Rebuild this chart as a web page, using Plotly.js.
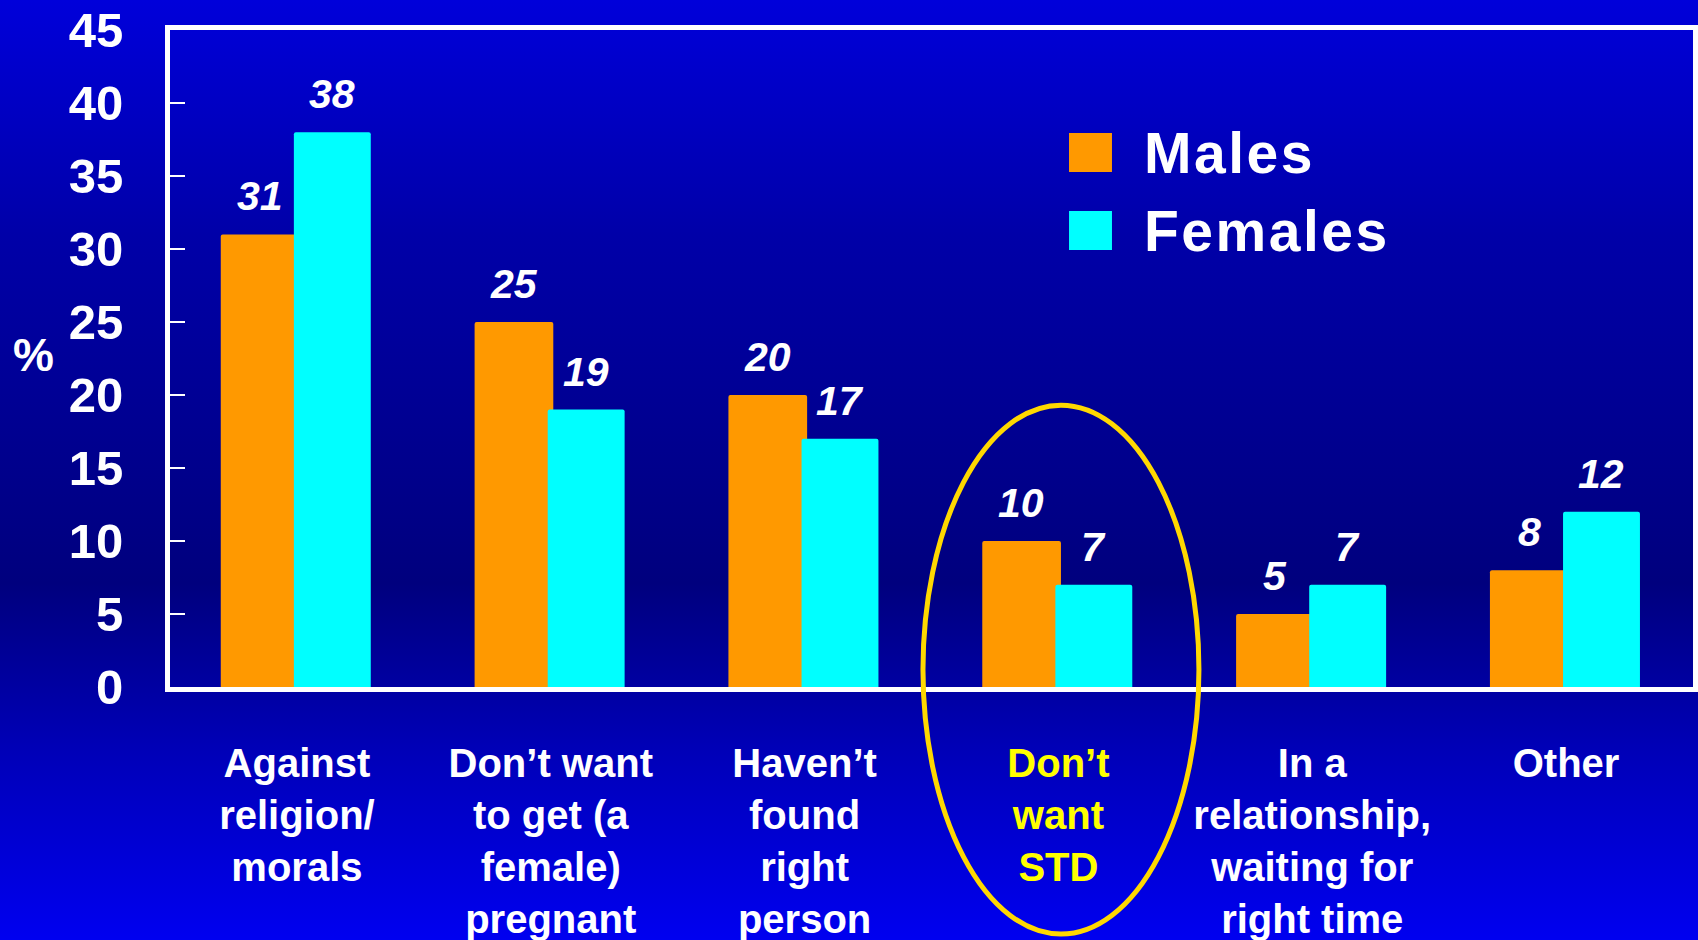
<!DOCTYPE html>
<html>
<head>
<meta charset="utf-8">
<script src="https://cdn.plot.ly/plotly-3.0.1.min.js"></script>
<style>
  html, body { margin: 0; padding: 0; width: 1698px; height: 940px; overflow: hidden; }
  body { background: linear-gradient(to bottom, #0000DA 0%, #0000A8 25%, #00007E 62%, #0000B8 80%, #0000F0 100%); }
  #chart { width: 1698px; height: 940px; }
</style>
</head>
<body>
<div id="chart"></div>
<script>
// ---- data ----
const categories = [
  "Against religion/morals",
  "Don’t want to get (a female) pregnant",
  "Haven’t found right person",
  "Don’t want STD",
  "In a relationship, waiting for right time",
  "Other"
];
const tickLabels = [
  "Against<br>religion/<br>morals",
  "Don’t want<br>to get (a<br>female)<br>pregnant",
  "Haven’t<br>found<br>right<br>person",
  "<span style='color:#FFFF00'>Don’t</span><br><span style='color:#FFFF00'>want</span><br><span style='color:#FFFF00'>STD</span>",
  "In a<br>relationship,<br>waiting for<br>right time",
  "Other"
];
const seriesNames = ["Males", "Females"];
const males = [31, 25, 20, 10, 5, 8];
const females = [38, 19, 17, 7, 7, 12];
const yTickVals = [0, 5, 10, 15, 20, 25, 30, 35, 40, 45];

// ---- styling ----
const FONT = "Arial, 'Liberation Sans', Helvetica, sans-serif";
const ORANGE = "#FF9900";
const CYAN = "#00FFFF";
const seriesColors = [ORANGE, CYAN];

const traces = [
  {
    type: "bar", name: seriesNames[0], x: categories, y: males,
    width: 0.31, offset: -0.30,
    marker: { color: ORANGE, line: { width: 0 }, cornerradius: 2 },
    hoverinfo: "x+y", showlegend: false
  },
  {
    type: "bar", name: seriesNames[1], x: categories, y: females,
    width: 0.303, offset: -0.012,
    marker: { color: CYAN, line: { width: 0 }, cornerradius: 2 },
    hoverinfo: "x+y", showlegend: false
  }
];

const annotations = [];
const valueFont = { family: FONT, size: 41, color: "#FFFFFF", weight: "bold", style: "italic" };
categories.forEach((c, i) => {
  annotations.push({ x: c, y: males[i], xref: "x", yref: "y", text: String(males[i]),
    showarrow: false, xanchor: "center", yanchor: "bottom", xshift: -37, yshift: 13, font: valueFont });
  annotations.push({ x: c, y: females[i], xref: "x", yref: "y", text: String(females[i]),
    showarrow: false, xanchor: "center", yanchor: "bottom", xshift: 35, yshift: 13, font: valueFont });
});

// y-axis "%" label (horizontal)
annotations.push({ xref: "paper", yref: "paper", x: -0.0893, y: 0.505, text: "%", showarrow: false,
  xanchor: "center", yanchor: "middle", font: { family: FONT, size: 46, color: "#FFFFFF", weight: "bold" } });

// custom legend
const shapes = [];
const legendRows = [0.8135, 0.6948];
const legendAnnIdx = [];
seriesNames.forEach((n, k) => {
  shapes.push({ type: "rect", xref: "paper", yref: "paper",
    x0: 0.5903, x1: 0.6185, y0: legendRows[k] - 0.0297, y1: legendRows[k] + 0.0297,
    fillcolor: seriesColors[k], line: { width: 0 }, layer: "above" });
  legendAnnIdx.push(annotations.length);
  annotations.push({ xref: "paper", yref: "paper", x: 0.6382, y: legendRows[k], text: n, showarrow: false,
    xanchor: "left", yanchor: "middle", align: "left",
    font: { family: FONT, size: 57, color: "#FFFFFF", weight: "bold" } });
});

// highlight ellipse
shapes.push({ type: "circle", xref: "paper", yref: "paper",
  x0: 0.4944, x1: 0.6756, y0: -0.376, y1: 0.429,
  line: { color: "#FFD800", width: 5 }, fillcolor: "rgba(0,0,0,0)", layer: "above" });

const layout = {
  width: 1698, height: 940,
  margin: { l: 170, r: 5, t: 30, b: 253, pad: 0 },
  paper_bgcolor: "rgba(0,0,0,0)",
  plot_bgcolor: "rgba(0,0,0,0)",
  barmode: "overlay",
  showlegend: false,
  font: { family: FONT, color: "#FFFFFF" },
  xaxis: {
    type: "category", range: [-0.5, 5.5],
    tickvals: categories, ticktext: tickLabels,
    showline: true, linecolor: "#FFFFFF", linewidth: 5, mirror: true,
    ticks: "", showgrid: false, zeroline: false,
    tickfont: { family: FONT, size: 40, color: "#FFFFFF", weight: "bold" },
    ticklabelstandoff: 37,
    fixedrange: true
  },
  yaxis: {
    range: [0, 45], tickvals: yTickVals,
    ticks: "inside", ticklen: 15, tickwidth: 2, tickcolor: "#FFFFFF",
    showline: true, linecolor: "#FFFFFF", linewidth: 5, mirror: true,
    showgrid: false, zeroline: false,
    tickfont: { family: FONT, size: 49, color: "#FFFFFF", weight: "bold" },
    ticklabelstandoff: 32,
    fixedrange: true
  },
  annotations: annotations,
  shapes: shapes
};

Plotly.newPlot("chart", traces, layout, { displayModeBar: false, staticPlot: true }).then(() => {
  legendAnnIdx.forEach(idx => {
    const t = document.querySelector('g.annotation[data-index="' + idx + '"] text');
    if (t) t.style.letterSpacing = "2.5px";
  });
});
</script>
</body>
</html>
